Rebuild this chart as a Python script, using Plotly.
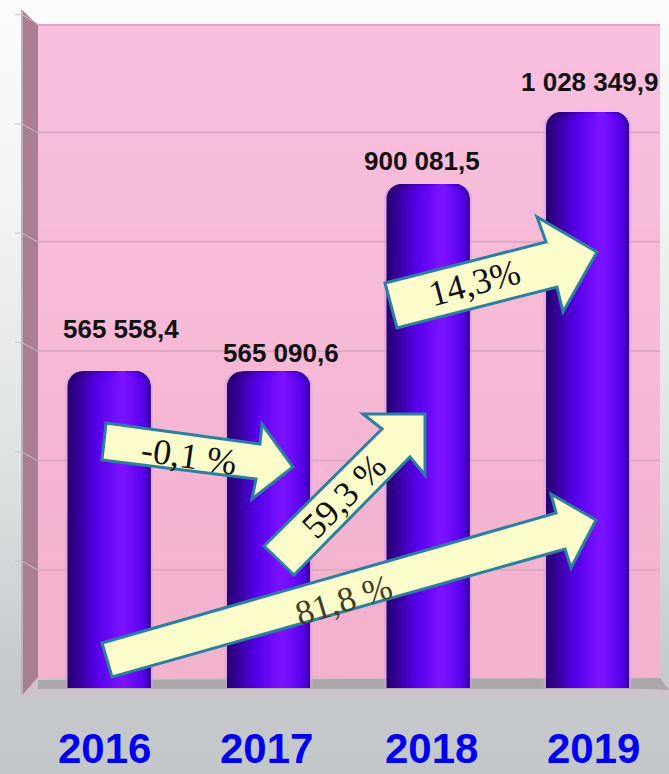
import plotly.graph_objects as go

years = ["2016", "2017", "2018", "2019"]
values = [565558.4, 565090.6, 900081.5, 1028349.9]
value_labels = ["565 558,4", "565 090,6", "900 081,5", "1 028 349,9"]
grid_values = [200000, 400000, 600000, 800000, 1000000]

W, H = 669, 774
L, R, T, B = 38, 9, 25, 86
PLOT_W = W - L - R
PLOT_H = H - T - B
PX_PER_CAT = 159.5
PX_PER_UNIT = 112 / 200000
BAR_W = 83

def px(x):
    return (x - L) / PLOT_W
def py(y):
    return 1 - (y - T) / PLOT_H
def poly(points, fill, line=None, lw=0, layer="below", opacity=1):
    path = "M" + " L".join(f"{px(a):.5f},{py(b):.5f}" for a, b in points) + " Z"
    return dict(type="path", xref="paper", yref="paper", path=path, fillcolor=fill, opacity=opacity,
                line=dict(color=line or "rgba(0,0,0,0)", width=lw), layer=layer)
def lerp(c1, c2, t):
    return tuple(a + (b - a) * t for a, b in zip(c1, c2))
def rgb(c):
    return "rgb(" + ",".join(str(round(a)) for a in c) + ")"

shapes = []
PANEL_L, PANEL_R, PANEL_T, PANEL_B = 38, 660, 25, 677
N = 16
for i in range(N):
    y0 = PANEL_T + (PANEL_B - PANEL_T) * i / N
    y1 = PANEL_T + (PANEL_B - PANEL_T) * (i + 1) / N
    shapes.append(poly([(PANEL_L, y0), (PANEL_R, y0), (PANEL_R, y1 + 0.5), (PANEL_L, y1 + 0.5)],
                       rgb(lerp((249, 191, 222), (243, 178, 205), i / (N - 1)))))
shapes.append(dict(type="line", xref="paper", yref="paper", x0=px(PANEL_L), x1=px(PANEL_R), y0=py(PANEL_T), y1=py(PANEL_T),
                   line=dict(color="#dfa9c0", width=2), layer="below"))
shapes.append(poly([(22, 10), (38, 25), (38, 677), (22, 696)], "#a97d92"))
shapes.append(dict(type="line", xref="paper", yref="paper", x0=px(22), x1=px(22), y0=py(10), y1=py(696),
                   line=dict(color="#b9b2ba", width=2), layer="below"))
shapes.append(poly([(38, 677), (660, 677), (669, 690), (669, 698), (22, 698), (22, 696)], "#cfc3cb"))
shapes.append(poly([(38, 680), (660, 678), (669, 690), (640, 689), (38, 689)], "#9a9a98", opacity=0.65))
GRID_ZERO = 679
GRID_STEP = 109.3 / 200000
for v in grid_values + [1200000]:
    y = GRID_ZERO - v * GRID_STEP
    if v != 1200000:
        shapes.append(dict(type="line", xref="paper", yref="paper", x0=px(PANEL_L), x1=px(PANEL_R), y0=py(y), y1=py(y),
                           line=dict(color="#dfa8c2", width=2), layer="below"))
    shapes.append(poly([(15, y - 9), (22, y - 9), (38, y), (38, y + 1), (22, y - 8), (15, y - 8)], "#c9c3c8", layer="below"))
shapes.append(poly([(15, 695), (22, 695), (38, 680), (38, 681), (22, 697), (15, 697)], "#c9c3c8"))

EDGE = "#2b7f9f"
FILL = "#fdfdcb"
arrows = [
    [(106, 423), (260, 444), (262, 424), (293, 467), (252, 499), (256, 479), (102, 460)],
    [(264, 546), (382, 429), (363, 414), (425, 414), (425, 475), (410, 457), (294, 575)],
    [(102, 643), (556, 513), (551, 494), (596, 520), (571, 568), (565, 549), (112, 677)],
    [(385, 283), (546, 242), (537, 217), (597, 252), (563, 312), (557, 287), (397, 328)],
]
for a in arrows:
    shapes.append(poly(a, FILL, EDGE, 3, layer="above"))

STOPS_L = (0.0, 0.62)
STOPS_R = (1.0, 0.70)
DARK, MID, BRIGHT = (38, 0, 112), (86, 0, 235), (122, 18, 255)
N_SHADE = 22
fig = go.Figure()
wf = BAR_W / PX_PER_CAT
fig.add_trace(go.Bar(x=years, y=values, width=wf + 0.03, offset=-(wf + 0.03) / 2, marker=dict(color="#d89af0", line_width=0),
                     opacity=0.55, hoverinfo="skip", showlegend=False))
for i in range(N_SHADE):
    t = i / (N_SHADE - 1)
    a = lerp((STOPS_L[0],), (STOPS_L[1],), t)[0]
    b = lerp((STOPS_R[0],), (STOPS_R[1],), t ** 2.2)[0]
    c = lerp(DARK, MID, t / 0.55) if t < 0.55 else lerp(MID, BRIGHT, (t - 0.55) / 0.45)
    fig.add_trace(go.Bar(x=years, y=values, width=wf * (b - a), offset=-wf / 2 + wf * a,
                         marker=dict(color=rgb(c), line_width=0), hoverinfo="skip", showlegend=False))

label_dx = [12, 12, -6, 2]
label_dy = [42, 19, 23, 30]
anns = []
for i, (v, t, dx, dy) in enumerate(zip(values, value_labels, label_dx, label_dy)):
    anns.append(dict(x=i, y=v, xref="x", yref="y", text=f"<b>{t}</b>", showarrow=False, xshift=dx, yshift=dy,
                     font=dict(family="Liberation Sans", size=26, color="#111111"),
                     xanchor="center", yanchor="middle"))
year_dx = [-5, -2, 3, 6]
for i, (yr, dx) in enumerate(zip(years, year_dx)):
    anns.append(dict(x=i, y=py(749), xref="x", yref="paper", text=f"<b>{yr}</b>", showarrow=False, xshift=dx,
                     font=dict(family="Liberation Sans", size=42, color="#0000f0"),
                     xanchor="center", yanchor="middle"))

arrow_text = [
    ("-0,1 %", 189, 456, 8, 36, "#111111"),
    ("59,3 %", 344, 496, -45, 36, "#111111"),
    ("81,8 %", 343, 600, -17, 35, "#3d3d2c"),
    ("14,3%", 474, 283, -15, 36, "#111111"),
]
for t, x, y, rot, s, col in arrow_text:
    anns.append(dict(x=px(x), y=py(y), xref="paper", yref="paper", text=t, showarrow=False, textangle=rot,
                     font=dict(family="Liberation Serif", size=s, color=col), xanchor="center", yanchor="middle"))

fig.update_layout(
    width=W, height=H, autosize=False,
    margin=dict(l=L, r=R, t=T, b=B, pad=0),
    paper_bgcolor="rgba(0,0,0,0)", plot_bgcolor="rgba(0,0,0,0)",
    barmode="overlay", barcornerradius=15, showlegend=False,
    xaxis=dict(type="category", categoryorder="array", categoryarray=years,
               range=[-71 / PX_PER_CAT, -71 / PX_PER_CAT + PLOT_W / PX_PER_CAT],
               showgrid=False, zeroline=False, showline=False, showticklabels=False, ticks=""),
    yaxis=dict(range=[0, PLOT_H / PX_PER_UNIT], showgrid=False, zeroline=False, showline=False,
               showticklabels=False, ticks=""),
    shapes=shapes, annotations=anns,
)
css = ("document.documentElement.style.overflow='hidden';document.body.style.margin='0';"
       "document.body.style.background='linear-gradient(180deg,#fbfbfb 0%,#f3f4f4 25%,#dfe2e3 60%,#c6c9cb 88%,#c4c7c9 100%)';"
       "document.body.style.height='774px';")
fig.write_html("out.html", post_script=css, config=dict(displayModeBar=False))
